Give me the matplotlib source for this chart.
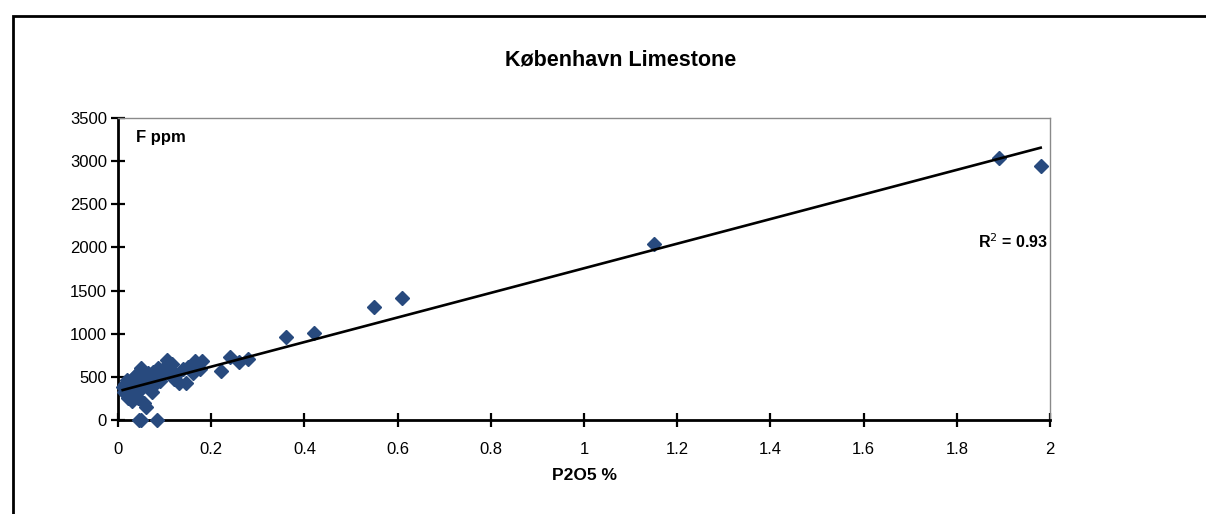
import matplotlib
matplotlib.use("Agg")
import matplotlib.pyplot as plt
import numpy as np
from matplotlib.patches import Rectangle

plt.rcParams['font.family'] = ['Liberation Sans', 'DejaVu Sans']

# P2O5 (%) and F (ppm) for the København Limestone samples
p2o5 = [
    0.010, 0.012, 0.015, 0.018, 0.020, 0.020, 0.022, 0.025, 0.028, 0.030,
    0.030, 0.032, 0.035, 0.038, 0.040, 0.040, 0.042, 0.045, 0.048, 0.050,
    0.050, 0.055, 0.058, 0.060, 0.062, 0.065, 0.070, 0.072, 0.075, 0.080,
    0.085, 0.088, 0.090, 0.095, 0.100, 0.105, 0.110, 0.115, 0.120, 0.125,
    0.130, 0.140, 0.145, 0.150, 0.160, 0.165, 0.170, 0.175, 0.180,
    0.220, 0.240, 0.260, 0.280,
    0.360, 0.420, 0.550, 0.610, 1.150, 1.890, 1.980,
    0.045, 0.049, 0.084,
]
f_ppm = [
    380, 330, 420, 300, 350, 460, 260, 400, 330, 480,
    220, 380, 290, 520, 420, 330, 250, 560, 430, 360,
    600, 200, 480, 150, 390, 540, 470, 330, 560, 420,
    600, 510, 450, 540, 620, 690, 560, 650, 480, 520,
    430, 590, 430, 620, 540, 680, 650, 590, 680,
    570, 730, 670, 710,
    960, 1010, 1310, 1410, 2040, 3040, 2940,
    0, 0, 0,
]

x = np.array(p2o5)
y = np.array(f_ppm)

# least-squares trendline
slope, intercept = np.polyfit(x, y, 1)
fit = slope * x + intercept
r2 = 1 - np.sum((y - fit) ** 2) / np.sum((y - y.mean()) ** 2)

fig = plt.figure(figsize=(12.06, 5.14), dpi=100)
ax = fig.add_axes([118 / 1206, 94 / 514, 932 / 1206, 302 / 514])

ax.plot(x, y, linestyle='none', marker='D', markersize=7.5,
        color='#284a7e', markeredgecolor='#284a7e', zorder=3, clip_on=False)
xs = np.array([x.min(), x.max()])
ax.plot(xs, slope * xs + intercept, color='black', linewidth=1.9, zorder=4)

ax.set_xlim(0, 2)
ax.set_ylim(0, 3500)
ax.set_xticks(np.arange(0, 2.01, 0.2))
ax.set_xticklabels(['0', '0.2', '0.4', '0.6', '0.8', '1', '1.2', '1.4',
                    '1.6', '1.8', '2'])
ax.set_yticks(np.arange(0, 3501, 500))
ax.tick_params(direction='inout', length=10, width=1.6, labelsize=12,
               color='black')
ax.tick_params(axis='x', pad=11)
ax.tick_params(axis='y', pad=3)

for side in ['left', 'bottom']:
    ax.spines[side].set_linewidth(2)
    ax.spines[side].set_color('black')
for side in ['top', 'right']:
    ax.spines[side].set_linewidth(1)
    ax.spines[side].set_color('#8a8a8a')
    ax.spines[side].set_linestyle((0, (2, 1)))

ax.set_xlabel('P2O5 %', fontsize=12.5, fontweight='bold', labelpad=8)
ax.text(0.019, 0.935, 'F ppm', transform=ax.transAxes, fontsize=12,
        fontweight='bold', va='center')
ax.text(0.998, 0.59, f'R$^2$ = {r2:.2f}', transform=ax.transAxes,
        fontsize=11.5, fontweight='bold', ha='right', va='center')

fig.text(621 / 1206, 1 - 60 / 514, 'København Limestone', ha='center',
         va='center', fontsize=15.5, fontweight='bold')

# outer chart frame
fig.patches.append(Rectangle((13 / 1206, -0.05), 1.2, 1 - 16 / 514 + 0.05,
                             transform=fig.transFigure, fill=False,
                             edgecolor='black', linewidth=2))

fig.savefig('out.png', dpi=100, facecolor='white')
